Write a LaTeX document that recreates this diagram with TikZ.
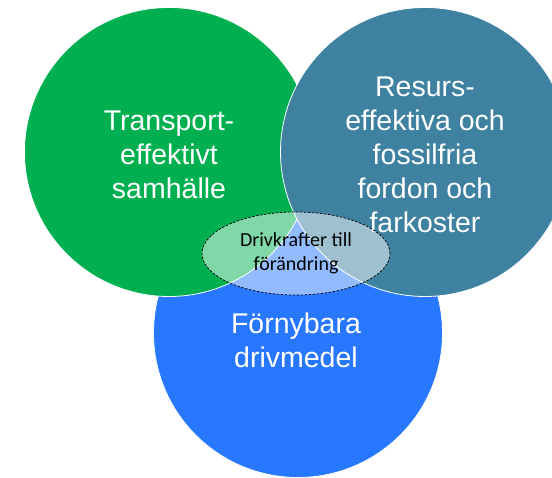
\documentclass[tikz,border=0pt]{standalone}
\usepackage{fontspec}
\setmainfont{Liberation Sans}
\newfontfamily\carlito{Carlito}
\usetikzlibrary{shapes.geometric}
\definecolor{gron}{HTML}{00B050}
\definecolor{petrol}{HTML}{3F81A1}
\definecolor{bla}{HTML}{2777FF}
\tikzset{
  cirkel/.style={circle, minimum size=289pt, inner sep=0pt, draw=white, line width=0.8pt},
  rubrik/.style={text=white, align=center, font=\fontsize{28.5}{34}\selectfont},
}
\begin{document}
\begin{tikzpicture}[x=1pt,y=-1pt]
        \useasboundingbox (0,0) rectangle (552,478);
        \clip (0,0) rectangle (552,478);
        % tre cirklar: den blå underst, sedan grön och petrol ovanpå
        \node[cirkel, fill=bla] (fornybara) at (298,333) {};
        \node[cirkel, fill=gron] (transport) at (169,152) {};
        \node[cirkel, fill=petrol] (resurs) at (425,152) {};

        \node[rubrik] (ttransport) at (169,155) {Transport-\\effektivt\\samhälle};
        \node[rubrik] (tresurs) at (425,155) {Resurs-\\effektiva och\\fossilfria\\fordon och\\farkoster};
        \node[rubrik] (tfornybara) at (296,340) {Förnybara\\drivmedel};

        % halvgenomskinlig ellips i mitten
        \node[ellipse, minimum width=188pt, minimum height=83pt, fill=white, fill opacity=0.5,
              text opacity=1, draw=black, line width=0.7pt, dash pattern=on 2.5pt off 1.5pt,
              align=center, font=\carlito\fontsize{20}{24.5}\selectfont] (drivkrafter) at (296,253.5)
              {Drivkrafter till\\förändring};
    \end{tikzpicture}
\end{document}
